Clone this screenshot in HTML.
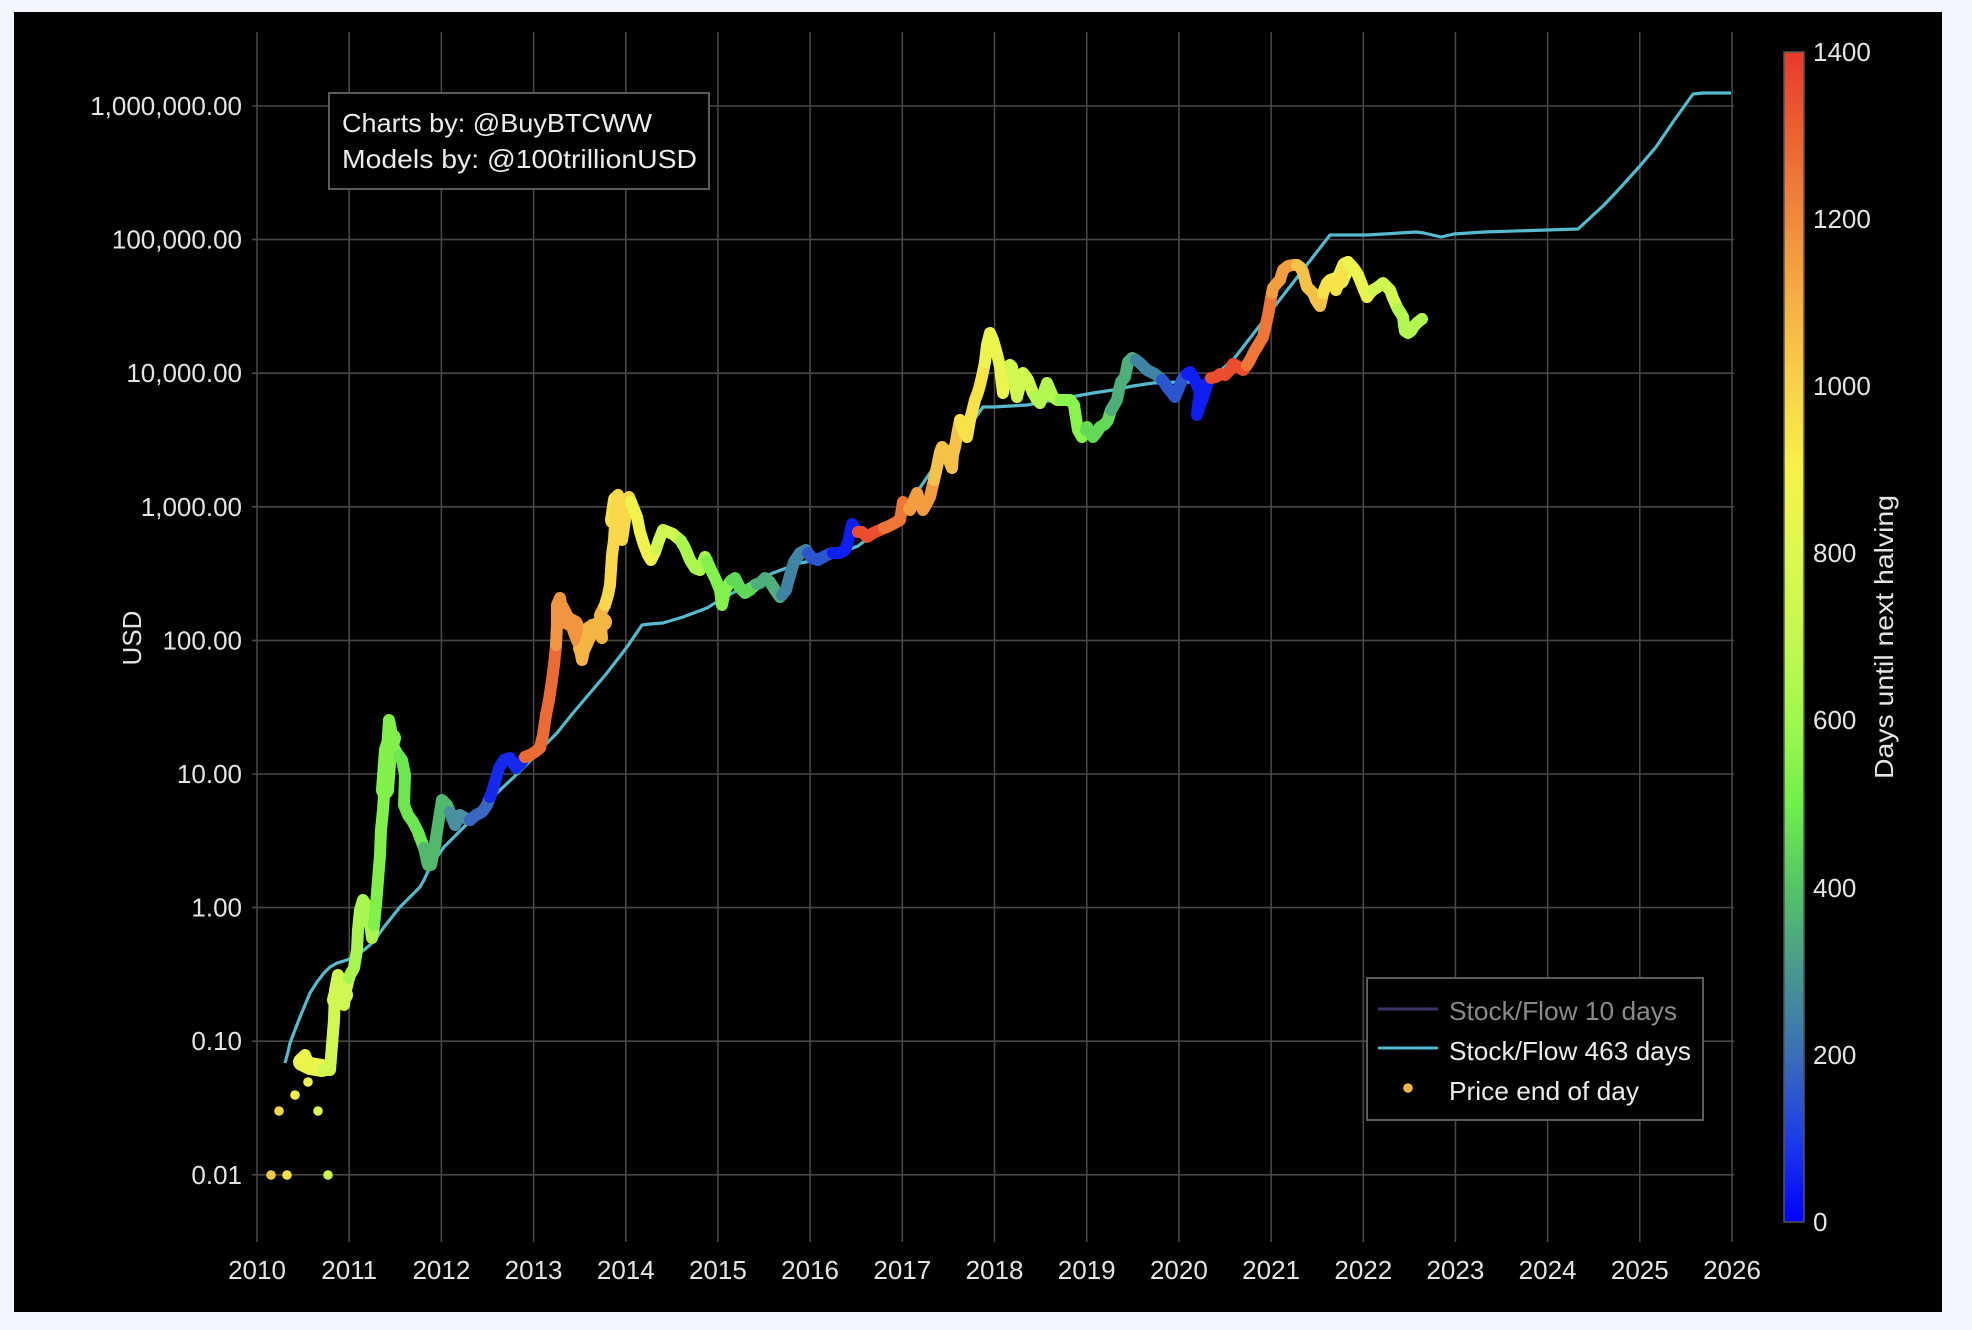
<!DOCTYPE html>
<html><head><meta charset="utf-8"><style>
html,body{margin:0;padding:0;background:#f3f6fd;}
svg{display:block;}
text{font-family:"Liberation Sans",sans-serif;}
</style></head><body>
<svg width="1972" height="1330" viewBox="0 0 1972 1330" xmlns="http://www.w3.org/2000/svg">
<defs>
<linearGradient id="cb" x1="0" y1="1" x2="0" y2="0">
<stop offset="0" stop-color="#0000ff"/>
<stop offset="0.0714" stop-color="#1e3ce6"/>
<stop offset="0.1429" stop-color="#3a6fb8"/>
<stop offset="0.2143" stop-color="#46998e"/>
<stop offset="0.2857" stop-color="#55c466"/>
<stop offset="0.3571" stop-color="#6ff04a"/>
<stop offset="0.4286" stop-color="#a0f84e"/>
<stop offset="0.5" stop-color="#c4f850"/>
<stop offset="0.5714" stop-color="#dcf850"/>
<stop offset="0.6429" stop-color="#f6f24a"/>
<stop offset="0.7143" stop-color="#f8d24a"/>
<stop offset="0.7857" stop-color="#f5b044"/>
<stop offset="0.8571" stop-color="#f08a3c"/>
<stop offset="0.9286" stop-color="#ec6232"/>
<stop offset="1" stop-color="#e83a2a"/>
</linearGradient>
</defs>
<rect x="14" y="12" width="1928" height="1300" fill="#000"/>
<!-- grid -->
<g stroke="#474747" stroke-width="1.6">
<line x1="252" y1="106" x2="1734" y2="106"/>
<line x1="252" y1="239.6" x2="1734" y2="239.6"/>
<line x1="252" y1="373.2" x2="1734" y2="373.2"/>
<line x1="252" y1="506.8" x2="1734" y2="506.8"/>
<line x1="252" y1="640.4" x2="1734" y2="640.4"/>
<line x1="252" y1="774" x2="1734" y2="774"/>
<line x1="252" y1="907.6" x2="1734" y2="907.6"/>
<line x1="252" y1="1041.2" x2="1734" y2="1041.2"/>
<line x1="252" y1="1174.8" x2="1734" y2="1174.8"/>
<line x1="257" y1="32" x2="257" y2="1242"/>
<line x1="349.2" y1="32" x2="349.2" y2="1242"/>
<line x1="441.4" y1="32" x2="441.4" y2="1242"/>
<line x1="533.6" y1="32" x2="533.6" y2="1242"/>
<line x1="625.8" y1="32" x2="625.8" y2="1242"/>
<line x1="717.9" y1="32" x2="717.9" y2="1242"/>
<line x1="810.1" y1="32" x2="810.1" y2="1242"/>
<line x1="902.3" y1="32" x2="902.3" y2="1242"/>
<line x1="994.5" y1="32" x2="994.5" y2="1242"/>
<line x1="1086.7" y1="32" x2="1086.7" y2="1242"/>
<line x1="1178.9" y1="32" x2="1178.9" y2="1242"/>
<line x1="1271.1" y1="32" x2="1271.1" y2="1242"/>
<line x1="1363.3" y1="32" x2="1363.3" y2="1242"/>
<line x1="1455.4" y1="32" x2="1455.4" y2="1242"/>
<line x1="1547.6" y1="32" x2="1547.6" y2="1242"/>
<line x1="1639.8" y1="32" x2="1639.8" y2="1242"/>
<line x1="1732" y1="32" x2="1732" y2="1242"/>
</g>
<!-- y tick labels -->
<g fill="#e4e4e4" font-size="26" text-anchor="end">
<text x="242" y="115">1,000,000.00</text>
<text x="242" y="248.6">100,000.00</text>
<text x="242" y="382.2">10,000.00</text>
<text x="242" y="515.8">1,000.00</text>
<text x="242" y="649.4">100.00</text>
<text x="242" y="783">10.00</text>
<text x="242" y="916.6">1.00</text>
<text x="242" y="1050.2">0.10</text>
<text x="242" y="1183.8">0.01</text>
</g>
<!-- x tick labels -->
<g fill="#e4e4e4" font-size="26" text-anchor="middle">
<text x="257" y="1279">2010</text>
<text x="349.2" y="1279">2011</text>
<text x="441.4" y="1279">2012</text>
<text x="533.6" y="1279">2013</text>
<text x="625.8" y="1279">2014</text>
<text x="717.9" y="1279">2015</text>
<text x="810.1" y="1279">2016</text>
<text x="902.3" y="1279">2017</text>
<text x="994.5" y="1279">2018</text>
<text x="1086.7" y="1279">2019</text>
<text x="1178.9" y="1279">2020</text>
<text x="1271.1" y="1279">2021</text>
<text x="1363.3" y="1279">2022</text>
<text x="1455.4" y="1279">2023</text>
<text x="1547.6" y="1279">2024</text>
<text x="1639.8" y="1279">2025</text>
<text x="1732" y="1279">2026</text>
</g>
<text x="0" y="0" fill="#e4e4e4" font-size="26" text-anchor="middle" transform="translate(141,638) rotate(-90)">USD</text>

<!-- Stock/Flow 463 line -->
<polyline fill="none" stroke="#56b9cc" stroke-width="3.2" stroke-linejoin="round" points="285,1063 288,1052 290,1043 295,1030 300,1017 305,1005 310,993 317,982 324,973 330,967 337,963 347,960 357,955 364,950 370,945 377,937 384,927 392,917 400,907 410,897 420,887 424,880 430,867 437,857 444,847 454,837 464,827 475,816 487,803 500,790 514,777 524,767 534,757 540,750 557,733 573,713 590,693 607,673 627,647 642,625 650,624 663,623 683,617 707,608 720,600 747,585 773,573 800,563 827,558 858,546 870,537 880,530 890,522 900,513 917,492 932,470 945,452 960,433 975,418 983,407 993,407 1027,405 1060,399 1093,393 1113,390 1133,386 1153,383 1180,382 1207,382 1215,375 1233,360 1330,235 1334,235 1367,235 1416,232 1424,233 1441,237 1454,234 1484,232 1547,230 1578,229 1604,205 1621,187 1639,167 1656,147 1673,122 1693,94 1703,93 1731,93"/>

<!-- Price dots / trace -->
<g stroke="none">
<circle cx="271" cy="1175" r="4.8" fill="#f5c84a"/>
<circle cx="287" cy="1175" r="4.8" fill="#f8e04a"/>
<circle cx="328" cy="1175" r="4.8" fill="#cff850"/>
<circle cx="279" cy="1111" r="4.8" fill="#f7d84a"/>
<circle cx="318" cy="1111" r="4.8" fill="#d8f850"/>
<circle cx="295" cy="1095" r="4.8" fill="#f3ee4b"/>
<circle cx="308" cy="1082" r="4.8" fill="#eef24c"/>
</g>
<!-- blobs for dense clusters -->
<g fill="none" stroke-linecap="round" stroke-linejoin="round" stroke-width="18">
<polyline stroke="#eaf54d" points="302,1062 310,1066 322,1068"/>
<polyline stroke="#d8f850" points="336,1000 340,985 344,995"/>
<polyline stroke="#f29540" points="560,608 566,620 574,624 580,640"/>
<polyline stroke="#f5b545" points="582,648 590,630 598,626 603,622"/>
<polyline stroke="#f7e24a" points="614,520 617,500 622,505"/>
<polyline stroke="#82f24c" points="385,790 388,750 392,738"/>
<polyline stroke="#eaf54d" points="1333,282 1340,280 1346,266"/>
</g>
<g fill="none" stroke-width="12" stroke-linecap="round" stroke-linejoin="round">
<!-- cycle 1 -->
<polyline stroke="#eaf54d" points="300,1060 305,1055 310,1068 318,1070 323,1070"/>
<polyline stroke="#d0f850" points="323,1070 330,1070 332,1045 334,1020 335,990 338,975 342,985 344,1005 346,990 349,978"/>
<polyline stroke="#a8f64e" points="349,978 350,975 354,968 357,950 358,930 360,910 363,900 366,905 369,915 372,938 374,925"/>
<polyline stroke="#80f04a" points="374,925 376,905 378,880 380,855 381,830 383,810 385,780 387,750 389,720 392,735 394,748 398,755 399,756"/>
<polyline stroke="#6ee650" points="399,756 402,760 405,775 404,805 408,815 413,822 418,832 424,848"/>
<polyline stroke="#52b86c" points="424,848 428,865 431,865 434,850 438,825 442,800 447,805 450,812"/>
<polyline stroke="#4a90a0" points="450,812 451,815 455,825 460,815 465,818 470,820"/>
<polyline stroke="#3a68c0" points="470,820 476,815 482,812 487,805 490,797"/>
<polyline stroke="#1428ee" points="490,797 491,795 495,782 499,768 504,760 510,758 516,768 521,763 525,757"/>
<!-- cycle 2 -->
<polyline stroke="#ec6a34" points="525,757 530,755 535,752 540,748 543,735 546,715 549,700 552,680 554,665 556,645"/>
<polyline stroke="#f29540" points="556,645 557,625 557,605 560,598 563,615 567,620 572,622 577,630 580,650"/>
<polyline stroke="#f5b545" points="580,650 582,660 585,645 588,635 592,625 597,628 602,638 600,615 605,605"/>
<polyline stroke="#f7d849" points="605,605 608,595 610,585 611,570 612,555 614,540 615,525 617,505 618,495 621,505 623,520 622,540 625,520 629,497 631,502"/>
<polyline stroke="#eff34b" points="631,502 633,507 637,517 640,532 644,545 648,555 651,560 655,552 656,549"/>
<polyline stroke="#d0f850" points="656,549 659,540 663,530 668,532 673,534 680,540 681,541"/>
<polyline stroke="#aaf84e" points="681,541 685,548 690,560 695,568 700,570 705,557 707,561"/>
<polyline stroke="#84f24c" points="707,561 710,568 715,578 720,590 722,605 725,590 730,582 732,580"/>
<polyline stroke="#60d858" points="732,580 735,578 740,588 745,593 750,590 755,585 757,584"/>
<polyline stroke="#4eae7c" points="757,584 760,583 765,578 770,582 775,590 780,597 782,595"/>
<polyline stroke="#4084a3" points="782,595 786,590 790,575 794,562 800,553 806,550 808,553"/>
<polyline stroke="#2c56cf" points="808,553 812,558 818,560 825,556 832,553 833,553"/>
<polyline stroke="#0f1ef2" points="833,553 840,553 845,550 848,542 852,524 855,528 858,532"/>
<!-- cycle 3 -->
<polyline stroke="#ea4e2e" points="858,532 862,532 867,537 873,533 880,530 884,528"/>
<polyline stroke="#ee7637" points="884,528 887,527 893,524 900,520 903,502 907,508 909,509"/>
<polyline stroke="#f29d40" points="909,509 910,510 914,500 917,493 920,503 923,510 927,503 930,497 934,480"/>
<polyline stroke="#f6c147" points="934,480 937,467 940,452 942,447 945,450 947,453 950,463 952,468 953,455 955,447 958,430 960,420"/>
<polyline stroke="#f7e24a" points="960,420 963,430 967,437 970,420 973,408 975,400 978,392 980,385 983,372 985,362"/>
<polyline stroke="#eaf54d" points="985,362 987,345 990,333 993,340 995,347 998,358 1000,367 1002,385 1003,393 1005,380 1007,367 1010,365"/>
<polyline stroke="#d0f850" points="1010,365 1012,367 1015,385 1017,397 1020,385 1023,373 1026,377 1028,380 1031,388 1033,393 1035,396"/>
<polyline stroke="#b2f84f" points="1035,396 1037,400 1040,403 1044,392 1047,383 1050,390 1053,397 1057,400 1061,400"/>
<polyline stroke="#88f44c" points="1061,400 1065,400 1070,400 1074,405 1076,418 1078,430 1082,437 1085,432 1086,430"/>
<polyline stroke="#62da58" points="1086,430 1087,427 1090,432 1093,437 1097,432 1100,427 1105,424 1108,420 1110,413 1111,410"/>
<polyline stroke="#4eaf7a" points="1111,410 1114,405 1117,400 1119,390 1121,382 1125,377 1128,362 1132,358 1136,360"/>
<polyline stroke="#4084a3" points="1136,360 1140,363 1144,367 1147,370 1151,372 1155,374 1160,378 1162,380"/>
<polyline stroke="#2c56cf" points="1162,380 1164,382 1167,387 1171,392 1175,397 1178,390 1182,380 1186,375 1187,374"/>
<polyline stroke="#0f1ef2" points="1187,374 1190,372 1193,376 1195,380 1198,388 1200,392 1198,405 1197,415 1200,405 1203,398 1206,388 1208,382 1211,378"/>
<!-- cycle 4 -->
<polyline stroke="#ea4e2e" points="1211,378 1216,377 1220,374 1225,375 1230,370 1233,364 1237,366 1243,370 1247,365"/>
<polyline stroke="#ee7637" points="1247,365 1250,360 1254,352 1257,347 1260,342 1263,337 1265,328 1267,320 1269,310 1271,298 1272,293"/>
<polyline stroke="#f29d40" points="1272,293 1273,288 1277,283 1280,280 1283,270 1288,266 1293,265 1297,265"/>
<polyline stroke="#f6c147" points="1297,265 1300,267 1303,272 1305,280 1307,287 1310,290 1313,293 1316,300 1320,306 1322,298 1323,293"/>
<polyline stroke="#f7e24a" points="1323,293 1325,288 1327,283 1330,280 1333,283 1336,290 1339,283 1343,270 1346,263 1348,262"/>
<polyline stroke="#eaf54d" points="1348,262 1351,265 1355,270 1358,275 1360,280 1364,290 1367,297 1370,293 1373,290"/>
<polyline stroke="#d0f850" points="1373,290 1378,287 1383,283 1387,287 1390,290 1393,298 1397,307 1398,309"/>
<polyline stroke="#b2f84f" points="1398,309 1400,312 1403,317 1404,325 1405,331 1408,333 1411,331 1414,326 1418,322 1422,319"/>
</g>

<!-- credits box -->
<rect x="329" y="93" width="380" height="96" fill="#000" stroke="#5c5c5c" stroke-width="2"/>
<text x="342" y="132" fill="#ececec" font-size="26" textLength="310" lengthAdjust="spacingAndGlyphs">Charts by: @BuyBTCWW</text>
<text x="342" y="168" fill="#ececec" font-size="26" textLength="355" lengthAdjust="spacingAndGlyphs">Models by: @100trillionUSD</text>

<!-- legend -->
<rect x="1367" y="978" width="336" height="142" fill="#000" stroke="#5c5c5c" stroke-width="2"/>
<line x1="1378" y1="1009" x2="1438" y2="1009" stroke="#3b3566" stroke-width="3"/>
<text x="1449" y="1020" fill="#8a8a8a" font-size="26" textLength="228" lengthAdjust="spacingAndGlyphs">Stock/Flow 10 days</text>
<line x1="1378" y1="1048" x2="1438" y2="1048" stroke="#56b9cc" stroke-width="3"/>
<text x="1449" y="1060" fill="#ececec" font-size="26" textLength="242" lengthAdjust="spacingAndGlyphs">Stock/Flow 463 days</text>
<circle cx="1408" cy="1088" r="4.8" fill="#f5b342"/>
<text x="1449" y="1100" fill="#ececec" font-size="26" textLength="190" lengthAdjust="spacingAndGlyphs">Price end of day</text>

<!-- colorbar -->
<rect x="1784" y="52" width="20" height="1170" fill="url(#cb)" stroke="#555" stroke-width="1.5"/>
<g fill="#e4e4e4" font-size="26">
<text x="1813" y="61">1400</text>
<text x="1813" y="228">1200</text>
<text x="1813" y="395">1000</text>
<text x="1813" y="562">800</text>
<text x="1813" y="729">600</text>
<text x="1813" y="897">400</text>
<text x="1813" y="1064">200</text>
<text x="1813" y="1231">0</text>
</g>
<text x="0" y="0" fill="#e4e4e4" font-size="26" text-anchor="middle" textLength="284" lengthAdjust="spacingAndGlyphs" transform="translate(1893,637) rotate(-90)">Days until next halving</text>
</svg>
</body></html>
